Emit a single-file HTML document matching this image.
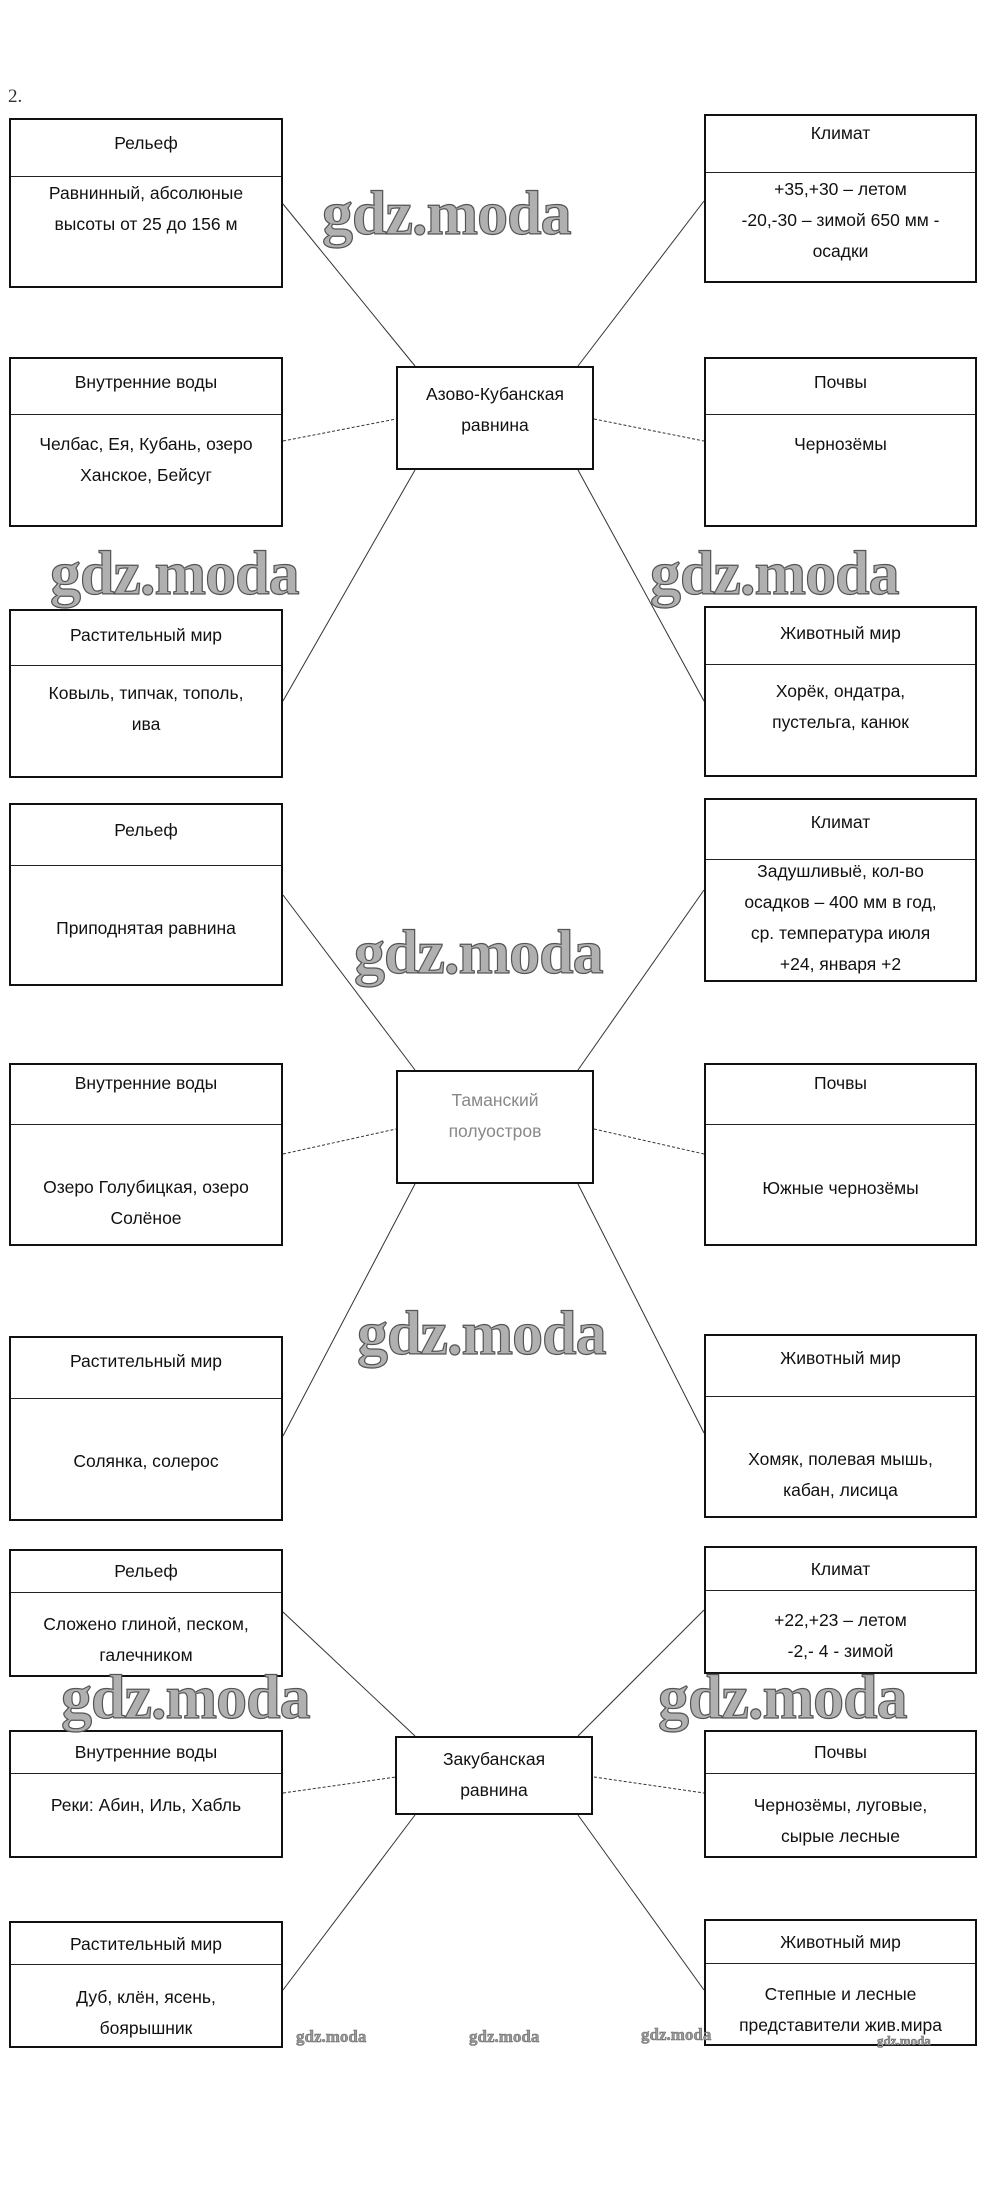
<!DOCTYPE html>
<html><head><meta charset="utf-8">
<style>
html,body{margin:0;padding:0;background:#fff;}
body{width:985px;height:2205px;position:relative;overflow:hidden;font-family:"Liberation Sans",sans-serif;color:#111;}
.b{position:absolute;border:2px solid #111;box-sizing:border-box;background:#fff;}
.d{position:absolute;left:0;right:0;border-top:1.5px solid #222;}
.t{position:absolute;left:0;right:0;text-align:center;font-size:17.5px;line-height:31px;white-space:nowrap;}
.c{position:absolute;border:2.5px solid #111;box-sizing:border-box;background:#fff;}
.wm{position:absolute;font-family:"Liberation Serif",serif;font-weight:bold;font-size:62px;color:#b0b0b0;-webkit-text-stroke:1.2px #555;letter-spacing:-1px;white-space:nowrap;line-height:1;}
.ws{position:absolute;font-family:"Liberation Serif",serif;font-weight:bold;font-size:17px;color:#999;-webkit-text-stroke:0.5px #666;white-space:nowrap;line-height:1;}
svg{position:absolute;left:0;top:0;}
</style></head><body>
<div style="position:absolute;left:8px;top:86px;font-family:'Liberation Serif',serif;font-size:19px;color:#333;">2.</div>

<svg width="985" height="2205">
<g stroke="#333" stroke-width="1" fill="none">
<line x1="283" y1="204" x2="415" y2="366"/>
<line x1="704" y1="201" x2="578" y2="366"/>
<line x1="283" y1="441" x2="396" y2="419" stroke-dasharray="3,2"/>
<line x1="594" y1="419" x2="704" y2="441" stroke-dasharray="3,2"/>
<line x1="415" y1="470" x2="283" y2="701"/>
<line x1="578" y1="470" x2="704" y2="701"/>

<line x1="283" y1="895" x2="415" y2="1070"/>
<line x1="704" y1="890" x2="578" y2="1070"/>
<line x1="283" y1="1154" x2="396" y2="1129" stroke-dasharray="3,2"/>
<line x1="594" y1="1129" x2="704" y2="1154" stroke-dasharray="3,2"/>
<line x1="415" y1="1184" x2="283" y2="1436"/>
<line x1="578" y1="1184" x2="704" y2="1433"/>

<line x1="283" y1="1612" x2="415" y2="1736"/>
<line x1="704" y1="1610" x2="578" y2="1736"/>
<line x1="283" y1="1793" x2="396" y2="1777" stroke-dasharray="3,2"/>
<line x1="594" y1="1777" x2="704" y2="1793" stroke-dasharray="3,2"/>
<line x1="415" y1="1815" x2="283" y2="1990"/>
<line x1="578" y1="1815" x2="704" y2="1990"/>
</g></svg>

<!-- Section 1 -->
<div class="b" style="left:9px;top:118px;width:274px;height:170px;"><div class="d" style="top:56px"></div>
<div class="t" style="top:8px">Рельеф</div>
<div class="t" style="top:58px">Равнинный, абсолюные<br>высоты от 25 до 156 м</div></div>
<div class="b" style="left:704px;top:114px;width:273px;height:169px;"><div class="d" style="top:56px"></div>
<div class="t" style="top:2px">Климат</div>
<div class="t" style="top:58px">+35,+30 – летом<br>-20,-30 – зимой 650 мм -<br>осадки</div></div>
<div class="b" style="left:9px;top:357px;width:274px;height:170px;"><div class="d" style="top:55px"></div>
<div class="t" style="top:8px">Внутренние воды</div>
<div class="t" style="top:70px">Челбас, Ея, Кубань, озеро<br>Ханское, Бейсуг</div></div>
<div class="b" style="left:704px;top:357px;width:273px;height:170px;"><div class="d" style="top:55px"></div>
<div class="t" style="top:8px">Почвы</div>
<div class="t" style="top:70px">Чернозёмы</div></div>
<div class="c" style="left:396px;top:366px;width:198px;height:104px;">
<div class="t" style="top:11px">Азово-Кубанская<br>равнина</div></div>
<div class="b" style="left:9px;top:609px;width:274px;height:169px;"><div class="d" style="top:54px"></div>
<div class="t" style="top:9px">Растительный мир</div>
<div class="t" style="top:67px">Ковыль, типчак, тополь,<br>ива</div></div>
<div class="b" style="left:704px;top:606px;width:273px;height:171px;"><div class="d" style="top:56px"></div>
<div class="t" style="top:10px">Животный мир</div>
<div class="t" style="top:68px">Хорёк, ондатра,<br>пустельга, канюк</div></div>

<!-- Section 2 -->
<div class="b" style="left:9px;top:803px;width:274px;height:183px;"><div class="d" style="top:60px"></div>
<div class="t" style="top:10px">Рельеф</div>
<div class="t" style="top:108px">Приподнятая равнина</div></div>
<div class="b" style="left:704px;top:798px;width:273px;height:184px;"><div class="d" style="top:59px"></div>
<div class="t" style="top:7px">Климат</div>
<div class="t" style="top:56px">Задушливыё, кол-во<br>осадков – 400 мм в год,<br>ср. температура июля<br>+24, января +2</div></div>
<div class="b" style="left:9px;top:1063px;width:274px;height:183px;"><div class="d" style="top:59px"></div>
<div class="t" style="top:3px">Внутренние воды</div>
<div class="t" style="top:107px">Озеро Голубицкая, озеро<br>Солёное</div></div>
<div class="b" style="left:704px;top:1063px;width:273px;height:183px;"><div class="d" style="top:59px"></div>
<div class="t" style="top:3px">Почвы</div>
<div class="t" style="top:108px">Южные чернозёмы</div></div>
<div class="c" style="left:396px;top:1070px;width:198px;height:114px;">
<div class="t" style="top:13px;color:#888">Таманский<br>полуостров</div></div>
<div class="b" style="left:9px;top:1336px;width:274px;height:185px;"><div class="d" style="top:60px"></div>
<div class="t" style="top:8px">Растительный мир</div>
<div class="t" style="top:108px">Солянка, солерос</div></div>
<div class="b" style="left:704px;top:1334px;width:273px;height:184px;"><div class="d" style="top:60px"></div>
<div class="t" style="top:7px">Животный мир</div>
<div class="t" style="top:108px">Хомяк, полевая мышь,<br>кабан, лисица</div></div>

<!-- Section 3 -->
<div class="b" style="left:9px;top:1549px;width:274px;height:128px;"><div class="d" style="top:41px"></div>
<div class="t" style="top:5px">Рельеф</div>
<div class="t" style="top:58px">Сложено глиной, песком,<br>галечником</div></div>
<div class="b" style="left:704px;top:1546px;width:273px;height:128px;"><div class="d" style="top:42px"></div>
<div class="t" style="top:6px">Климат</div>
<div class="t" style="top:57px">+22,+23 – летом<br>-2,- 4 - зимой</div></div>
<div class="b" style="left:9px;top:1730px;width:274px;height:128px;"><div class="d" style="top:41px"></div>
<div class="t" style="top:5px">Внутренние воды</div>
<div class="t" style="top:58px">Реки: Абин, Иль, Хабль</div></div>
<div class="b" style="left:704px;top:1730px;width:273px;height:128px;"><div class="d" style="top:41px"></div>
<div class="t" style="top:5px">Почвы</div>
<div class="t" style="top:58px">Чернозёмы, луговые,<br>сырые лесные</div></div>
<div class="c" style="left:395px;top:1736px;width:198px;height:79px;">
<div class="t" style="top:6px">Закубанская<br>равнина</div></div>
<div class="b" style="left:9px;top:1921px;width:274px;height:127px;"><div class="d" style="top:41px"></div>
<div class="t" style="top:6px">Растительный мир</div>
<div class="t" style="top:59px">Дуб, клён, ясень,<br>боярышник</div></div>
<div class="b" style="left:704px;top:1919px;width:273px;height:127px;"><div class="d" style="top:42px"></div>
<div class="t" style="top:6px">Животный мир</div>
<div class="t" style="top:58px">Степные и лесные<br>представители жив.мира</div></div>

<!-- Watermarks -->
<div class="wm" style="left:322px;top:183px;">gdz.moda</div>
<div class="wm" style="left:50px;top:543px;">gdz.moda</div>
<div class="wm" style="left:650px;top:543px;">gdz.moda</div>
<div class="wm" style="left:354px;top:922px;">gdz.moda</div>
<div class="wm" style="left:357px;top:1303px;">gdz.moda</div>
<div class="wm" style="left:61px;top:1667px;">gdz.moda</div>
<div class="wm" style="left:658px;top:1667px;">gdz.moda</div>
<div class="ws" style="left:296px;top:2028px;">gdz.moda</div>
<div class="ws" style="left:469px;top:2028px;">gdz.moda</div>
<div class="ws" style="left:641px;top:2026px;">gdz.moda</div>
<div class="ws" style="left:877px;top:2034px;font-size:13px;">gdz.moda</div>
</body></html>
